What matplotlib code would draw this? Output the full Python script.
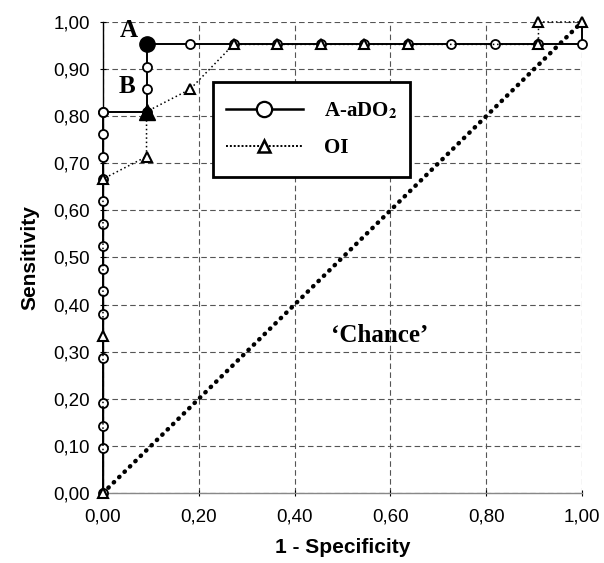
import matplotlib
matplotlib.use("Agg")
from matplotlib import pyplot as plt
from matplotlib.lines import Line2D
from matplotlib.patches import Rectangle

# ROC points (21 positives, 11 negatives)
aado2_x = [0, 0, 0, 0, 0, 0, 0, 0, 0, 0, 0, 0, 0, 0, 0, 0,
           1/11, 1/11, 1/11, 1/11,
           2/11, 3/11, 4/11, 5/11, 6/11, 7/11, 8/11, 9/11, 10/11, 1, 1]
aado2_y = [0, 2/21, 3/21, 4/21, 6/21, 8/21, 9/21, 10/21, 11/21, 12/21, 13/21,
           14/21, 15/21, 16/21, 17/21, 17/21,
           17/21, 18/21, 19/21, 20/21,
           20/21, 20/21, 20/21, 20/21, 20/21, 20/21, 20/21, 20/21, 20/21, 20/21, 1]
aado2_point_A = (1/11, 20/21)

oi_x = [0, 0, 0, 1/11, 1/11, 2/11, 3/11, 4/11, 5/11, 6/11, 7/11, 10/11, 10/11, 1]
oi_y = [0, 7/21, 14/21, 15/21, 17/21, 18/21, 20/21, 20/21, 20/21, 20/21, 20/21,
        20/21, 1, 1]
oi_point_B = (1/11, 17/21)

chance_x = [0, 1]
chance_y = [0, 1]

xticks = [0, 0.2, 0.4, 0.6, 0.8, 1.0]
xticklabels = ["0,00", "0,20", "0,40", "0,60", "0,80", "1,00"]
yticks = [i / 10 for i in range(11)]
yticklabels = ["0,%d0" % i for i in range(10)] + ["1,00"]

sans = "Liberation Sans"
serif = "Liberation Serif"
plt.rcParams["mathtext.fontset"] = "stix"

fig = plt.figure(figsize=(6.04, 5.63), dpi=100)
ax = fig.add_axes([0.1705, 0.1243, 0.7931, 0.8367])

ax.set_xlim(0, 1)
ax.set_ylim(0, 1)

ax.grid(True, linestyle=(0, (5, 3)), color="#555555", linewidth=0.8)
ax.set_axisbelow(True)

# chance diagonal
ax.plot(chance_x, chance_y, color="black", linewidth=3.2,
        linestyle=(0, (0.1, 1.6)), dash_capstyle="round", zorder=2)

# A-aDO2 curve
ax.plot(aado2_x, aado2_y, color="black", linewidth=1.4,
        marker="o", markersize=6.5, markerfacecolor="white",
        markeredgecolor="black", markeredgewidth=1.3,
        markevery=list(range(len(aado2_x) - 1)), clip_on=False, zorder=3)

# OI curve (markers drawn on top of the circles)
ax.plot(oi_x, oi_y, color="black", linewidth=1.1, linestyle=(0, (1, 1.8)),
        marker="^", markersize=6.5, markerfacecolor="white",
        markeredgecolor="black", markeredgewidth=1.5, clip_on=False, zorder=4)

# highlighted points
ax.plot([aado2_point_A[0]], [aado2_point_A[1]], marker="o", markersize=11,
        color="black", zorder=6, clip_on=False)
ax.plot([oi_point_B[0]], [oi_point_B[1]], marker="^", markersize=11,
        color="black", zorder=6, clip_on=False)

ax.text(0.073, 0.982, "A", ha="right", va="center", fontsize=18,
        fontweight="bold", family=serif)
ax.text(0.05, 0.862, "B", ha="center", va="center", fontsize=18,
        fontweight="bold", family=serif)
ax.text(0.577, 0.335, "\u2018Chance\u2019", ha="center", va="center",
        fontsize=18, fontweight="bold", family=serif)

# legend box
ax.add_patch(Rectangle((0.229, 0.671), 0.411, 0.202, transform=ax.transAxes,
                       facecolor="white", edgecolor="black", linewidth=2,
                       zorder=7))
handles = [
    Line2D([], [], color="black", linewidth=1.8, marker="o", markersize=11,
           markerfacecolor="white", markeredgecolor="black",
           markeredgewidth=1.6),
    Line2D([], [], color="black", linewidth=1.4, linestyle=(0, (1, 1)),
           marker="^", markersize=8.5, markerfacecolor="white",
           markeredgecolor="black", markeredgewidth=1.8),
]
labels = [r"A-aDO$_\mathbf{2}$", "OI"]
leg = ax.legend(handles, labels, loc="center", bbox_to_anchor=(0.4345, 0.772),
                frameon=False, handlelength=3.7, handletextpad=1.0,
                labelspacing=0.8, numpoints=1,
                prop={"family": serif, "weight": "bold", "size": 15})
leg.set_zorder(8)

ax.set_xticks(xticks)
ax.set_xticklabels(xticklabels)
ax.set_yticks(yticks)
ax.set_yticklabels(yticklabels)
ax.tick_params(axis="both", direction="inout", length=5, width=0.8,
               labelsize=13.5)
ax.tick_params(axis="x", pad=9)
ax.tick_params(axis="y", pad=7)
for lab in ax.get_xticklabels() + ax.get_yticklabels():
    lab.set_family(sans)

ax.spines["top"].set_visible(False)
ax.spines["right"].set_visible(False)
ax.spines["left"].set_linewidth(1.0)
ax.spines["bottom"].set_color("#888888")
ax.spines["bottom"].set_linewidth(1.0)

ax.set_xlabel("1 - Specificity", family=sans, fontweight="bold", fontsize=15,
              labelpad=9)
ax.set_ylabel("Sensitivity", family=sans, fontweight="bold", fontsize=15,
              labelpad=10)

fig.savefig("out.png", dpi=100)
